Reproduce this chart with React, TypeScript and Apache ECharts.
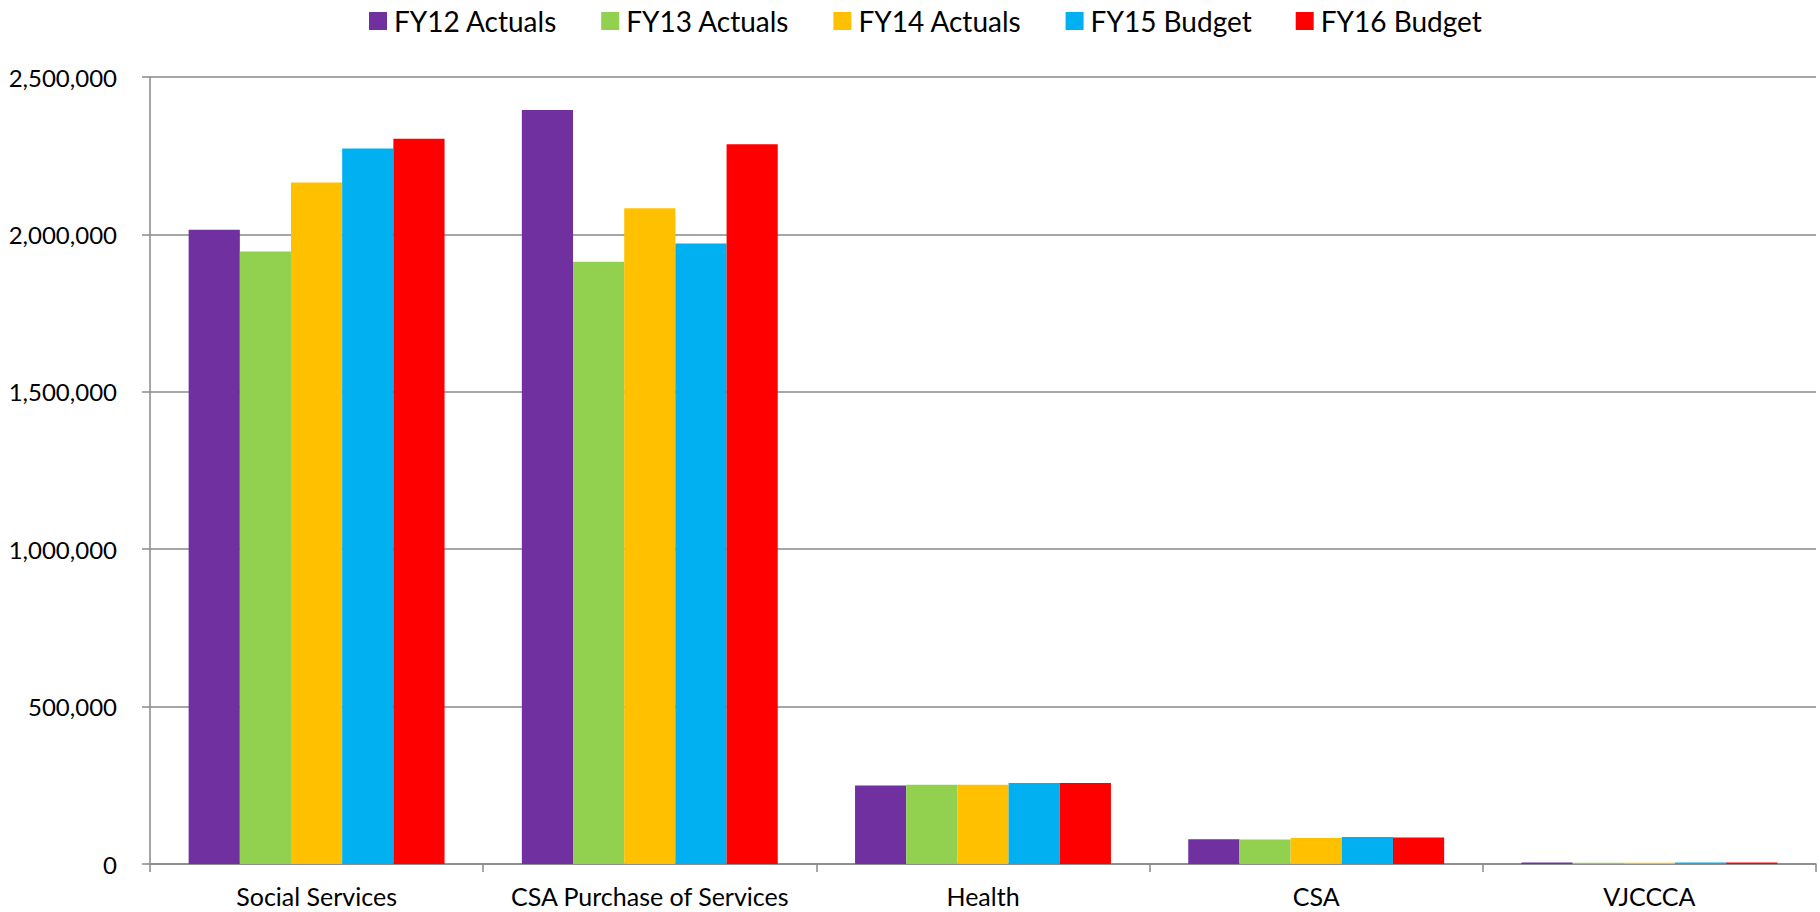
import React, { useEffect, useRef } from "react";
import * as echarts from "echarts";

const categories = ["Social Services", "CSA Purchase of Services", "Health", "CSA", "VJCCCA"];
const seriesNames = ["FY12 Actuals", "FY13 Actuals", "FY14 Actuals", "FY15 Budget", "FY16 Budget"];
const fy12 = [2015000, 2395000, 249000, 79000, 4500];
const fy13 = [1946000, 1913000, 252000, 78000, 4000];
const fy14 = [2165000, 2083000, 252000, 82500, 4000];
const fy15 = [2273000, 1971000, 257000, 85500, 4500];
const fy16 = [2304000, 2286000, 257000, 84000, 5000];
const colors = ["#7030A0", "#92D050", "#FFC000", "#00B0F0", "#FF0000"];
const yTicks = [0, 500000, 1000000, 1500000, 2000000, 2500000];

export default function App() {
  const ref = useRef<HTMLDivElement>(null);
  useEffect(() => {
    document.body.style.margin = "0";
    if (!ref.current) return;
    const chart = echarts.init(ref.current, undefined, { renderer: "svg" });
    const data = [fy12, fy13, fy14, fy15, fy16];
    const font = "Lato";
    chart.setOption({
      animation: false,
      backgroundColor: "#ffffff",
      color: colors,
      legend: {
        data: seriesNames,
        left: 364,
        top: 2,
        itemWidth: 18,
        itemHeight: 18,
        itemGap: 44,
        icon: "rect",
        textStyle: { fontFamily: font, fontSize: 28, color: "#000", padding: [0, 0, 0, 2] },
      },
      grid: { left: 150, right: 4, top: 77, bottom: 48, containLabel: false },
      xAxis: {
        type: "category",
        data: categories,
        axisLine: { lineStyle: { color: "#898989", width: 1.5 } },
        axisTick: { show: true, length: 8, lineStyle: { color: "#898989", width: 1.5 } },
        axisLabel: { fontFamily: font, fontSize: 25, color: "#000", margin: 19, interval: 0 },
      },
      yAxis: {
        type: "value",
        min: yTicks[0],
        max: yTicks[yTicks.length - 1],
        interval: 500000,
        axisLine: { show: true, lineStyle: { color: "#898989", width: 1.5 } },
        axisTick: { show: true, length: 8, lineStyle: { color: "#898989", width: 1.5 } },
        splitLine: { show: true, lineStyle: { color: "#898989", width: 1.5 } },
        axisLabel: {
          fontFamily: font,
          fontSize: 24,
          color: "#000",
          margin: 33,
          formatter: (v: number) => v.toLocaleString("en-US"),
        },
      },
      series: seriesNames.map((name, i) => ({
        name,
        type: "bar",
        data: data[i],
        barGap: "0%",
        barCategoryGap: "23.2%",
        itemStyle: { color: colors[i] },
      })),
    });
    return () => chart.dispose();
  }, []);
  return <div ref={ref} style={{ width: 1820, height: 912 }} />;
}
